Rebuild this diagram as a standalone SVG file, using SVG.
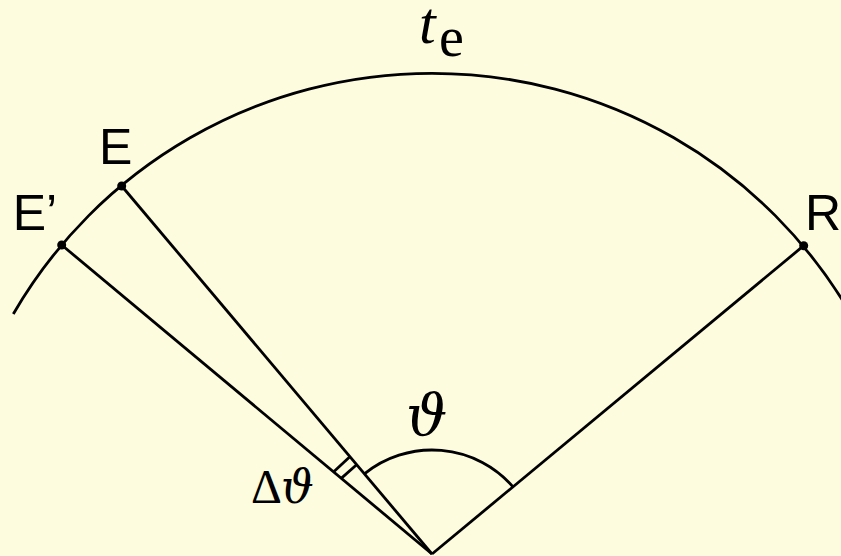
<svg xmlns="http://www.w3.org/2000/svg" width="841" height="556" viewBox="0 0 841 556">
  <style>
    .ln { fill: none; stroke: #000; stroke-width: 2.8; stroke-linecap: butt; }
    .dot { fill: #000; }
    .sans { font-family: "Liberation Sans", Arial, sans-serif; font-size: 50px; fill: #000; }
    .serif { font-family: "Liberation Serif", "DejaVu Serif", serif; fill: #000; }
    .theta { font-family: "DejaVu Serif", serif; font-style: italic; fill: #000; }
  </style>
  <rect x="0" y="0" width="841" height="556" fill="#fdfcdf"/>
  <g id="connectors">
    <path class="ln" d="M13.3,314 A483,480 0 0 1 850.7,314"/>
    <line class="ln" x1="432" y1="554" x2="121.7" y2="186"/>
    <line class="ln" x1="432" y1="554" x2="61.7" y2="245"/>
    <line class="ln" x1="432" y1="554" x2="803.7" y2="245.7"/>
    <path class="ln" d="M364.4,473.9 A106,104 0 0 1 513,486.9"/>
    <line class="ln" x1="334" y1="471.5" x2="349.3" y2="457.3"/>
    <line class="ln" x1="341.2" y1="478.4" x2="356.3" y2="465"/>
  </g>
  <g id="node-E">
    <circle class="dot" cx="121.7" cy="186" r="4.5"/>
    <text class="sans" x="99" y="163.5">E</text>
  </g>
  <g id="node-Eprime">
    <circle class="dot" cx="61.7" cy="245" r="4.5"/>
    <text class="sans" x="12.7" y="230">E’</text>
  </g>
  <g id="node-R">
    <circle class="dot" cx="803.7" cy="245.7" r="4.5"/>
    <text class="sans" x="805" y="230">R</text>
  </g>
  <g id="label-te">
    <text class="serif" x="419" y="43.3" font-size="60" font-style="italic">t</text>
    <text class="serif" x="439" y="56" font-size="56">e</text>
  </g>
  <g id="label-theta">
    <text class="theta" x="406" y="435" font-size="58">ϑ</text>
  </g>
  <g id="label-dtheta">
    <text class="serif" x="251" y="503" font-size="48">Δ</text>
    <text class="theta" x="281" y="503" font-size="46">ϑ</text>
  </g>
</svg>
